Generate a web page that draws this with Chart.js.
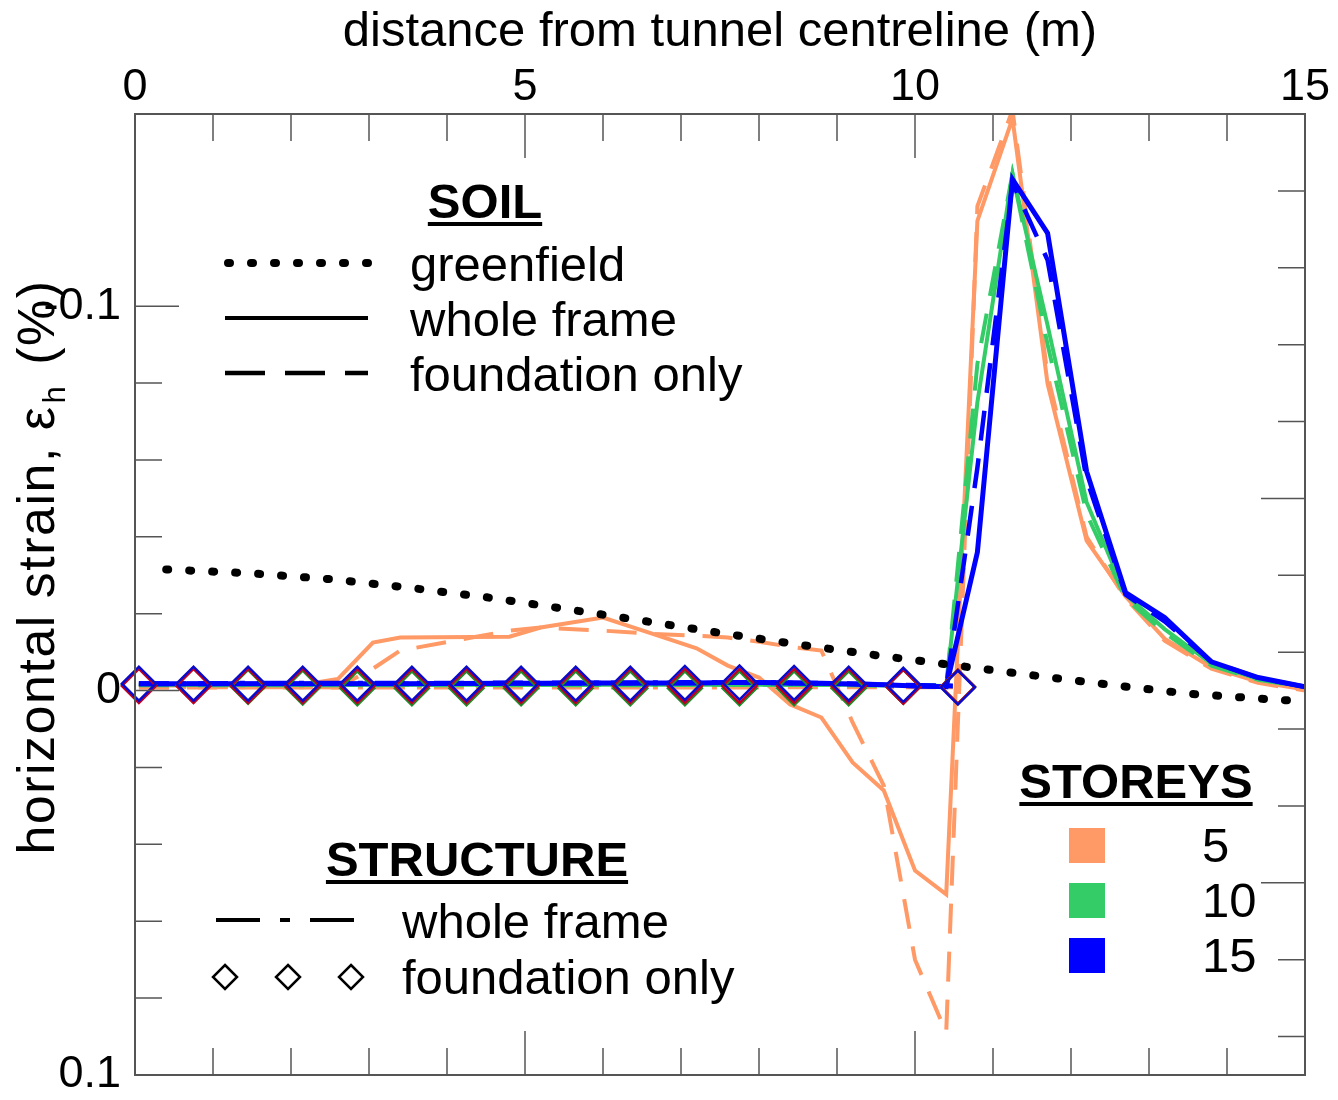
<!DOCTYPE html>
<html lang="en">
<head>
    <meta charset="UTF-8">
    <title>Horizontal strain</title>
    <script src="https://cdn.jsdelivr.net/npm/chart.js"></script>
    <style>
        html, body { margin: 0; padding: 0; background: #fff; }
        .chart-container { width: 1338px; height: 1100px; position: relative; }
    </style>
</head>
<body>
    <div class="chart-container">
        <canvas id="strainChart"></canvas>
    </div>
    <script>
        // ground surface points (m from centreline)
        const soilX = [0.05, 0.75, 1.45, 2.15, 2.6, 3.05, 3.4, 4.8, 5.2, 6.0, 6.6, 7.2, 7.6, 8.0, 8.4,
                       8.8, 9.2, 9.6, 10.0, 10.4, 10.8, 11.25, 11.7, 12.2, 12.7, 13.2, 13.8, 14.4, 15.0];
        // soil strain, whole frame (solid) and foundation only (dashed), per storey count
        const soil5Frame = [-0.0013, -0.0013, -0.0013, -0.0015, -0.003, -0.0125, -0.0138, -0.014, -0.0164, -0.019,
                            -0.015, -0.011, -0.0065, -0.0034, 0.0036, 0.007, 0.0187, 0.026, 0.0468, 0.053,
                            -0.1222, -0.1488, -0.0798, -0.039, -0.0245, -0.0135, -0.006, -0.0023, -0.0003];
        const soil5Found = [-0.0008, -0.0008, -0.0008, -0.0008, -0.0008, -0.0057, -0.0104, -0.0156, -0.0164, -0.0156,
                            -0.0148, -0.0143, -0.0138, -0.0127, -0.0114, -0.0104, 0.0083, 0.0247, 0.070, 0.089,
                            -0.126, -0.151, -0.082, -0.040, -0.024, -0.013, -0.0057, -0.002, 0.0];
        const soil10Frame = [-0.0015, -0.0015, -0.0015, -0.0015, -0.0015, -0.0015, -0.0015, -0.0015, -0.0015, -0.0015,
                             -0.0015, -0.0015, -0.0015, -0.0015, -0.0015, -0.0015, -0.0015, -0.0014, -0.0013, -0.0012,
                             -0.075, -0.1345, -0.095, -0.049, -0.025, -0.016, -0.007, -0.003, -0.001];
        const soil10Found = [-0.0015, -0.0015, -0.0015, -0.0015, -0.0015, -0.0015, -0.0015, -0.0015, -0.0015, -0.0015,
                             -0.0015, -0.0015, -0.0015, -0.0015, -0.0015, -0.0015, -0.0015, -0.0014, -0.0013, -0.0012,
                             -0.085, -0.1345, -0.090, -0.046, -0.024, -0.015, -0.0065, -0.0028, -0.001];
        const soil15Frame = [-0.0018, -0.0018, -0.0018, -0.0018, -0.0018, -0.0018, -0.0018, -0.0019, -0.0019, -0.002,
                             -0.002, -0.002, -0.0021, -0.0021, -0.002, -0.0019, -0.0017, -0.0015, -0.0012, -0.001,
                             -0.036, -0.133, -0.119, -0.057, -0.0255, -0.019, -0.0075, -0.0034, -0.001];
        const soil15Found = [-0.0018, -0.0018, -0.0018, -0.0018, -0.0018, -0.0018, -0.0018, -0.0019, -0.0019, -0.002,
                             -0.002, -0.002, -0.0021, -0.0021, -0.002, -0.0019, -0.0017, -0.0015, -0.0012, -0.001,
                             -0.058, -0.132, -0.112, -0.055, -0.025, -0.018, -0.0075, -0.0033, -0.001];

        // greenfield curve
        const gfX = [0.4, 1.5, 2.5, 3.5, 4.5, 5.5, 6.5, 7.5, 8.5, 9.5, 10.5, 11.5, 12.5, 13.5, 14.5, 15];
        const gfStrain = [-0.0315, -0.0305, -0.029, -0.0268, -0.0243, -0.0213, -0.0182, -0.0150, -0.0120, -0.0092,
                          -0.0066, -0.0040, -0.0015, 0.0008, 0.0022, 0.0028];

        // structure nodes (m)
        const structX = [0.05, 0.75, 1.45, 2.15, 2.85, 3.55, 4.25, 4.95, 5.65, 6.35, 7.05, 7.75, 8.45, 9.15, 9.85, 10.55];
        const str5Frame = [-0.0009, -0.0009, -0.0009, -0.0009, -0.0008, -0.0008, -0.0008, -0.0008, -0.0008, -0.0008,
                           -0.0008, -0.0008, -0.0009, -0.0009, -0.0009, -0.0009];
        const str10Frame = [-0.0014, -0.0014, -0.0014, -0.0014, -0.0014, -0.0014, -0.0014, -0.0014, -0.0014, -0.0014,
                            -0.0015, -0.0015, -0.0015, -0.0014, -0.0013, -0.0012];
        const str15Frame = [-0.0018, -0.0018, -0.0019, -0.0019, -0.0019, -0.0019, -0.0019, -0.002, -0.002, -0.002,
                            -0.0021, -0.0021, -0.002, -0.0018, -0.0014, -0.0012];
        const str5Found = [-0.0012, -0.0012, -0.0012, -0.0012, -0.0012, -0.0012, -0.0012, -0.0012, -0.0012, -0.0012,
                           -0.0012, -0.0012, -0.0012, -0.0012, -0.001, -0.001];
        const str10Found = [-0.0015, -0.0014, -0.001, -0.0008, -0.0006, -0.0006, -0.0006, -0.0006, -0.0006, -0.0006,
                            -0.0006, -0.0006, -0.0006, -0.0006, -0.001, -0.001];
        const str15Found = [-0.0018, -0.0018, -0.0018, -0.0018, -0.0018, -0.0018, -0.0018, -0.0018, -0.0018, -0.0018,
                            -0.002, -0.0021, -0.002, -0.0018, -0.0015, -0.0008];

        const xTicks = [0, 5, 10, 15];
        const yTicks = [-0.1, 0, 0.1];
        const yTickText = ['-0.1', '0', '0.1'];

        const ORANGE = '#FF9966', GREEN = '#33CC66', BLUE = '#0000FF';
        const FONT = "'Liberation Sans', Arial, sans-serif";
        const SOIL_DASH = [30, 18];
        const FRAME_DASH = [30, 12, 5, 12];

        function pts(xs, ys) {
            return xs.map((x, i) => ({ x: x, y: ys[i] }));
        }

        function lineSet(label, xs, ys, color, dash, width) {
            return {
                label: label,
                data: pts(xs, ys),
                borderColor: color,
                borderWidth: width,
                borderDash: dash,
                pointRadius: 0,
                fill: false,
                tension: 0
            };
        }

        function diamondSet(label, ys, color) {
            return {
                label: label,
                data: pts(structX, ys),
                showLine: false,
                pointStyle: 'rectRot',
                pointRadius: 17,
                pointBorderWidth: 2.5,
                pointBorderColor: color,
                pointBackgroundColor: 'rgba(0,0,0,0)',
                clip: false
            };
        }

        // first dataset ends up on top
        const datasets = [
            diamondSet('15 foundation (structure)', str15Found, '#0A0ACC'),
            diamondSet('5 foundation (structure)', str5Found, '#C00020'),
            diamondSet('10 foundation (structure)', str10Found, '#1E8C2A'),
            Object.assign(lineSet('greenfield', gfX, gfStrain, '#000', [2, 21], 8), { borderCapStyle: 'round' }),
            lineSet('15 whole frame (soil)', soilX, soil15Frame, BLUE, [], 5),
            lineSet('15 foundation (soil)', soilX, soil15Found, BLUE, SOIL_DASH, 4.5),
            lineSet('15 whole frame (structure)', structX, str15Frame, BLUE, FRAME_DASH, 5),
            lineSet('10 whole frame (soil)', soilX, soil10Frame, GREEN, [], 4),
            lineSet('10 foundation (soil)', soilX, soil10Found, GREEN, SOIL_DASH, 4),
            lineSet('10 whole frame (structure)', structX, str10Frame, GREEN, FRAME_DASH, 4),
            lineSet('5 whole frame (soil)', soilX, soil5Frame, ORANGE, [], 4),
            lineSet('5 foundation (soil)', soilX, soil5Found, ORANGE, SOIL_DASH, 4),
            lineSet('5 whole frame (structure)', structX, str5Frame, ORANGE, FRAME_DASH, 4)
        ];

        // frame, inward ticks, y title and the three legend blocks
        const decorations = {
            id: 'decorations',
            afterDatasetsDraw(chart) {
                const ctx = chart.ctx;
                const a = chart.chartArea;
                const xs = chart.scales.x, ys = chart.scales.y;
                ctx.save();
                ctx.strokeStyle = '#555';
                ctx.lineWidth = 1.5;
                ctx.beginPath();
                for (let m = 1; m < 15; m++) {
                    const px = xs.getPixelForValue(m);
                    const len = (m % 5 === 0) ? 44 : 27;
                    ctx.moveTo(px, a.top); ctx.lineTo(px, a.top + len);
                    ctx.moveTo(px, a.bottom); ctx.lineTo(px, a.bottom - len);
                }
                for (let k = -5; k <= 4; k++) {
                    const py = ys.getPixelForValue(k * 0.02);
                    const len = (k === -5 || k === 0) ? 44 : 27;
                    ctx.moveTo(a.left, py); ctx.lineTo(a.left + len, py);
                }
                for (let k = -13; k <= 9; k += 2) {
                    const py = ys.getPixelForValue(k * 0.01);
                    const len = (k === -5 || k === 5) ? 44 : 27;
                    ctx.moveTo(a.right, py); ctx.lineTo(a.right - len, py);
                }
                ctx.stroke();
                ctx.lineWidth = 2;
                ctx.strokeRect(a.left, a.top, a.right - a.left, a.bottom - a.top);
                ctx.restore();
            },
            afterDraw(chart) {
                const ctx = chart.ctx;
                ctx.save();
                ctx.fillStyle = '#000';
                ctx.strokeStyle = '#000';

                // y axis title with subscript
                ctx.save();
                ctx.translate(54, 567);
                ctx.rotate(-Math.PI / 2);
                ctx.textBaseline = 'alphabetic';
                ctx.textAlign = 'left';
                ctx.letterSpacing = '1.5px';
                const big = '52px ' + FONT, small = '31px ' + FONT;
                ctx.font = big;
                const t1 = 'horizontal strain, \u03B5', t3 = ' (%)';
                const w1 = ctx.measureText(t1).width, w3 = ctx.measureText(t3).width;
                ctx.font = small;
                const w2 = ctx.measureText('h').width;
                let x0 = -(w1 + w2 + w3 + 6) / 2;
                ctx.font = big;
                ctx.fillText(t1, x0, 0);
                ctx.font = small;
                ctx.fillText('h', x0 + w1 + 2, 11);
                ctx.font = big;
                ctx.fillText(t3, x0 + w1 + w2 + 6, 0);
                ctx.restore();

                function header(text, cx, baseline) {
                    ctx.font = 'bold 49px ' + FONT;
                    ctx.textAlign = 'center';
                    const w = ctx.measureText(text).width;
                    ctx.fillText(text, cx, baseline);
                    ctx.fillRect(cx - w / 2, baseline + 4, w, 4);
                }
                function item(text, x, baseline) {
                    ctx.font = '49px ' + FONT;
                    ctx.textAlign = 'left';
                    ctx.fillText(text, x, baseline);
                }
                function sample(y, x1, x2, dash, width, cap) {
                    ctx.save();
                    ctx.lineWidth = width;
                    ctx.setLineDash(dash);
                    ctx.lineCap = cap || 'butt';
                    ctx.beginPath();
                    ctx.moveTo(x1, y); ctx.lineTo(x2, y);
                    ctx.stroke();
                    ctx.restore();
                }
                ctx.textBaseline = 'alphabetic';

                // SOIL
                header('SOIL', 485, 218);
                sample(263, 228, 368, [2, 21], 8, 'round');
                sample(318, 225, 368, [], 4);
                sample(373, 225, 368, [40, 20], 4.5);
                item('greenfield', 410, 281);
                item('whole frame', 410, 336);
                item('foundation only', 410, 391);

                // STRUCTURE
                header('STRUCTURE', 477, 876);
                sample(920, 216, 358, [44, 20, 10, 20], 4);
                item('whole frame', 402, 938);
                item('foundation only', 402, 994);
                ctx.lineWidth = 2.5;
                [225, 288, 351].forEach(cx => {
                    const r = 12;
                    ctx.beginPath();
                    ctx.moveTo(cx, 977 - r); ctx.lineTo(cx + r, 977);
                    ctx.lineTo(cx, 977 + r); ctx.lineTo(cx - r, 977);
                    ctx.closePath();
                    ctx.stroke();
                });

                // STOREYS
                header('STOREYS', 1136, 798);
                [[ORANGE, '5', 828], [GREEN, '10', 883], [BLUE, '15', 938]].forEach(r => {
                    ctx.fillStyle = r[0];
                    ctx.fillRect(1069, r[2], 36, 35);
                    ctx.fillStyle = '#000';
                    item(r[1], 1202, r[2] + 34);
                });
                ctx.restore();
            }
        };

        new Chart(document.getElementById('strainChart').getContext('2d'), {
            type: 'line',
            data: { datasets: datasets },
            options: {
                responsive: true,
                maintainAspectRatio: false,
                animation: false,
                layout: { padding: { left: 0, top: 0, right: 33, bottom: 25 } },
                plugins: {
                    legend: { display: false },
                    tooltip: { enabled: false }
                },
                scales: {
                    x: {
                        type: 'linear',
                        position: 'top',
                        min: 0,
                        max: 15,
                        afterBuildTicks: (scale) => { scale.ticks = xTicks.map(v => ({ value: v })); },
                        afterFit: (scale) => {
                            scale.height = 114;
                            scale.paddingLeft = 0;
                            scale.paddingRight = 0;
                        },
                        grid: { display: false, drawTicks: false },
                        border: { display: false },
                        ticks: {
                            autoSkip: false,
                            maxRotation: 0,
                            padding: 4,
                            color: '#000',
                            font: { family: FONT, size: 45, lineHeight: 1 }
                        },
                        title: {
                            display: true,
                            text: 'distance from tunnel centreline (m)',
                            color: '#000',
                            padding: { top: 3, bottom: 0 },
                            font: { family: FONT, size: 49, lineHeight: 1.2 }
                        }
                    },
                    y: {
                        type: 'linear',
                        reverse: true,
                        min: -0.15,
                        max: 0.1,
                        afterBuildTicks: (scale) => { scale.ticks = yTicks.map(v => ({ value: v })); },
                        afterFit: (scale) => {
                            scale.width = 135;
                            scale.paddingTop = 0;
                            scale.paddingBottom = 0;
                        },
                        grid: { display: false, drawTicks: false },
                        border: { display: false },
                        ticks: {
                            autoSkip: false,
                            padding: 14,
                            color: '#000',
                            font: { family: FONT, size: 45, lineHeight: 1 },
                            callback: (value, i) => yTickText[i]
                        }
                    }
                }
            },
            plugins: [decorations]
        });
    </script>
</body>
</html>
